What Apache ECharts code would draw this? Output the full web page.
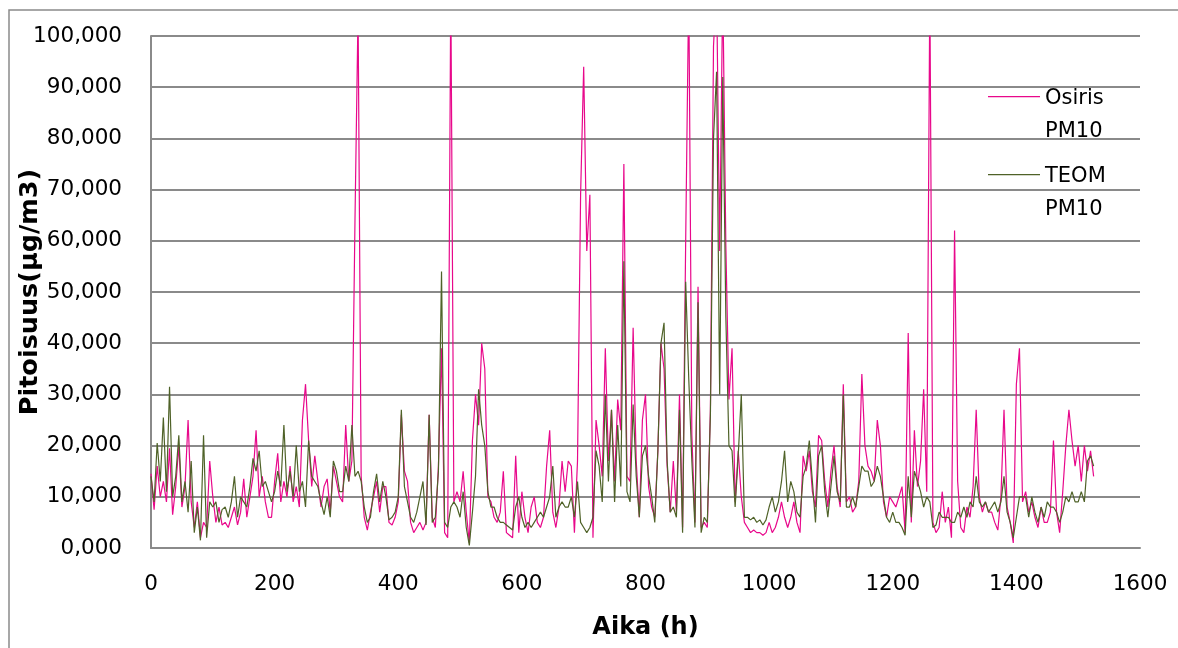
<!DOCTYPE html>
<html>
<head>
<meta charset="utf-8">
<script src="https://cdn.jsdelivr.net/npm/echarts@6/dist/echarts.min.js"></script>
<style>
  html, body { margin: 0; padding: 0; background: #fff; }
  #chart { width: 1178px; height: 648px; }
</style>
</head>
<body>
<div id="chart"></div>
<script>
// Hourly PM10 concentrations (µg/m3), sampled every 5 hours from hour 0
const startHour = 0;
const stepHours = 5;

const seriesNames = ['Osiris PM10', 'TEOM PM10'];

const osirisPM10 = [
  14.5,7.5,16,10,13,9,19.5,6.5,12,20,8,12,25,9,4,9,2,5,4,17,10,5,8,4.5,5,4,6,8,4.5,7,13.5,6,10,14,23,10,14,9,6,
  6,13,18.5,9,13,10,16,9,12,8,25,32,21,12,18,13,8,12,13.5,7,16,13,10,9,24,13,17,64,105,14,6,3.5,7,10,13,7,12,12,5,
  4.5,6,9,26,15,13,5,3,4,5,3.5,5,26,6,4,16,39,3,2,110,9,11,9,15,7,1,21,30,24,40,35,10,9,6,5,7,15,3,2.5,
  2,18,3,11,6,3,8,10,5,4,6,16,23,7,4,8,17,11,17,16,3,17,69,94,58,69,2,25,20,14,39,17,27,13,29,23,75,14,13,
  43,17,6,25,30,12,8,6,19,40,35,16,7,17,7,30,4,60,110,22,5,51,4,5,4,27,98,110,58,110,59,29,39,9,19,10,5,4,3,
  3.5,3,3,2.5,3,5,3,4,6,9,6,4,6,9,5,3,18,15,19,11,8,22,21,13,8,15,20,12,8,32,9,10,7,8,13,34,20,16,
  15,13,25,20,9,6,10,9,8,10,12,3,42,5,23,12,17,31,11,110,5,3,4,11,5,8,2,62,13,4,3,8,6,12,27,10,7,9,7,
  7,5,3.5,10,27,8,5,1,32,39,9,11,7,9,6,4,8,5,5,7,21,7,3,11,20,27,21,16,20,13,20,15,19,14
];

const teomPM10 = [
  14,9,20.5,13,25.5,11,31.5,10,14,22,9,13,7,17,3,8,1.5,22,2,9,8,9,5,7.5,8,6,9,14,6,10,9,8,12,17.5,15,19,12,13,11,
  9,11,15,12,24,11,15,10,20,11,13,8,21,14,13,12,9,6.5,10,6,17,15,11,11,16,13,24,14,15,13,8,5,6,11,14.5,9,13,10,5.5,
  6,7,10,27,12,9,6,5,7,10,13,4.5,26,5,6,15,54,5,4,8,9,8,6,11,4,0.5,7,14,31,24,20,11,8,8,6,5,5,4.5,4,
  3.5,8,10,6,4,5,4,5,6,7,6,8,10,16,6,8,9,8,8,10,6,13,5,4,3,4,6,19,16,9,30,13,27,9,24,12,56,11,9,
  28,14,6,18,20,14,10,5,19,40,44,17,7,8,6,27,3,52,33,17,4,48,3,6,5,26,80,93,30,92,45,20,19,8,18,30,6,6,5.5,
  6,5,5.5,4.5,5.5,8,10,7,9,13,19,9,13,11,7,6,14,16,21,13,5,18,20,11,6,12,18,11,9,30,8,8,10,8,12,16,15,15,
  12,13,16,14,10,6,5,7,5,5,4,2.5,14,6,15,13,11,8,10,9,4,4.5,7,6,6,6,5,5,7,6,8,6,9,8,14,9,8,9,7,
  8,9,7,9,14,7,5,2,6,10,10,10,6,10,7,5,8,6,9,8,8,7,5,7,10,9,11,9,9,11,9,17,18,16
];

// Axis ranges and titles
const xMin = 0, xMax = 1600, xStep = 200;
const yMin = 0, yMax = 100, yStep = 10;
const xTitle = 'Aika (h)';
const yTitle = 'Pitoisuus(µg/m3)';

const FONT = 'DejaVu Sans';
const GRID_COLOR = '#8a8a8a';
const colors = ['#E8088B', '#4F6228'];

// Legend key: a thin bar at the top of a tall box, so the bar lines up
// with the first line of the two-line legend text.
const KEY_W = 52, KEY_H = 38;
const legendKey = 'path://M0,0H' + KEY_W + 'V1.3H0Z M0,' + KEY_H + 'L0.01,' + KEY_H;

function toPairs(values) {
  return values.map((v, i) => [startHour + i * stepHours, v]);
}

const chart = echarts.init(document.getElementById('chart'), null, { renderer: 'canvas' });

chart.setOption({
  animation: false,
  backgroundColor: '#fff',
  color: colors,
  graphic: [{
    type: 'rect',
    shape: { x: 9, y: 10, width: 1220, height: 700 },
    style: { fill: 'none', stroke: GRID_COLOR, lineWidth: 1.5 },
    silent: true,
    z: -10
  }],
  grid: {
    left: 151, right: 38, top: 36, bottom: 100,
    containLabel: false,
    outerBoundsMode: 'none'
  },
  legend: {
    data: seriesNames,
    orient: 'vertical',
    left: 983,
    top: 77,
    itemGap: 12,
    itemWidth: KEY_W,
    itemHeight: KEY_H,
    icon: legendKey,
    selectedMode: false,
    formatter: n => n.replace(' ', '\n'),
    textStyle: { fontFamily: FONT, fontSize: 21, color: '#000', lineHeight: 33 }
  },
  xAxis: {
    type: 'value',
    min: xMin, max: xMax, interval: xStep,
    name: xTitle,
    nameLocation: 'middle',
    nameGap: 68,
    nameMoveOverlap: false,
    nameTextStyle: { fontFamily: FONT, fontSize: 24, fontWeight: 'bold', color: '#000' },
    axisLine: { show: true, onZero: false, lineStyle: { color: GRID_COLOR, width: 2 } },
    axisTick: { show: false },
    axisLabel: {
      fontFamily: FONT, fontSize: 21.5, color: '#000', margin: 25,
      formatter: v => String(v)
    },
    splitLine: { show: false }
  },
  yAxis: {
    type: 'value',
    min: yMin, max: yMax, interval: yStep,
    name: yTitle,
    nameLocation: 'middle',
    nameGap: 108,
    nameMoveOverlap: false,
    nameTextStyle: { fontFamily: FONT, fontSize: 25.5, fontWeight: 'bold', color: '#000' },
    axisLine: { show: true, lineStyle: { color: GRID_COLOR, width: 2 } },
    axisTick: { show: false },
    axisLabel: {
      fontFamily: FONT, fontSize: 21.5, color: '#000', margin: 29,
      formatter: v => v.toFixed(3).replace('.', ',')
    },
    splitLine: { show: true, lineStyle: { color: GRID_COLOR, width: 2 } }
  },
  series: [
    {
      name: seriesNames[0],
      type: 'line',
      data: toPairs(osirisPM10),
      symbol: 'none',
      clip: true,
      lineStyle: { width: 1.2, color: colors[0] },
      z: 2
    },
    {
      name: seriesNames[1],
      type: 'line',
      data: toPairs(teomPM10),
      symbol: 'none',
      clip: true,
      lineStyle: { width: 1.2, color: colors[1] },
      z: 3
    }
  ]
});
</script>
</body>
</html>
